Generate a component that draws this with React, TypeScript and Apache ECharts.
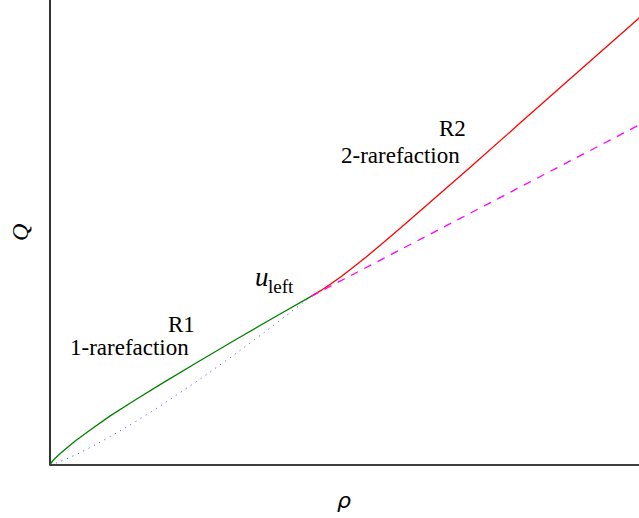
import React, { useEffect, useRef } from "react";
import * as echarts from "echarts";

// rho, Q pairs (origin = axes corner, u_left = (1, 1))
const greenRho = [0, 0.01145, 0.0305, 0.0573, 0.0954, 0.1527, 0.229, 0.3244, 0.4389, 0.5725, 0.7252, 0.8779, 1];
const greenQ = [0, 0.0238, 0.0536, 0.0893, 0.1387, 0.2042, 0.2876, 0.382, 0.4914, 0.6157, 0.7548, 0.8917, 1];

const blueRho = [0, 0.0267, 0.0687, 0.1107, 0.187, 0.2672, 0.3435, 0.4198, 0.5725, 0.6947, 0.8206, 0.9466, 1];
const blueQ = [0, 0.01, 0.0376, 0.0665, 0.1282, 0.1985, 0.2701, 0.3454, 0.5051, 0.6405, 0.7851, 0.9357, 1];

const redRho = [1, 1.0382, 1.0763, 1.1145, 1.1527, 1.2099, 1.2672, 1.3435, 1.458, 1.6107, 1.8015, 2.0305, 2.2595];
const redQ = [1, 1.0351, 1.0744, 1.1167, 1.1619, 1.2327, 1.3065, 1.4071, 1.5619, 1.7696, 2.0315, 2.3452, 2.6595];

const magentaRho = [1, 2.26];
const magentaQ = [1, 2.022];

const xMax = 2.256;
const yMax = 2.762;

const pairs = (a: number[], b: number[]) => a.map((v, i) => [v, b[i]]);

export default function App() {
  const ref = useRef<HTMLDivElement>(null);
  useEffect(() => {
    if (!ref.current) return;
    const chart = echarts.init(ref.current, undefined, { renderer: "svg" });
    const ttl = (text: string, left: number, top: number, size: number, extra: any = {}) => {
      const textStyle: any = {
        fontFamily: extra.family || "Liberation Serif",
        fontSize: size,
        fontWeight: "normal",
        color: "#000",
      };
      if (extra.italic) textStyle.fontStyle = "italic";
      return { text, left, top, padding: 0, itemGap: 0, textStyle };
    };
    chart.setOption({
      animation: false,
      backgroundColor: "#ffffff",
      textStyle: { fontFamily: "Liberation Serif" },
      title: [
        ttl("R1", 168, 313, 23),
        ttl("1-rarefaction", 70, 335.5, 23),
        ttl("R2", 439, 117.2, 23),
        ttl("2-rarefaction", 341, 143.8, 23),
        ttl("u", 255, 263.5, 27, { italic: true }),
        ttl("left", 268, 277, 19),
        ttl("ρ", 337, 489, 22, { italic: true, family: "DejaVu Sans" }),
      ],
      grid: { left: 48.5, right: 0, top: 0, bottom: 53.5 },
      xAxis: {
        type: "value",
        min: 0,
        max: xMax,
        axisLine: { show: true, onZero: false, lineStyle: { color: "#000", width: 1.6 } },
        axisTick: { show: false },
        axisLabel: { show: false },
        splitLine: { show: false },
      },
      yAxis: {
        type: "value",
        min: 0,
        max: yMax,
        name: "Q",
        nameLocation: "middle",
        nameRotate: 90,
        nameGap: 18,
        nameTextStyle: {
          fontFamily: "Liberation Serif",
          fontStyle: "italic",
          fontSize: 24,
          color: "#000",
        },
        axisLine: { show: true, onZero: false, lineStyle: { color: "#000", width: 1.6 } },
        axisTick: { show: false },
        axisLabel: { show: false },
        splitLine: { show: false },
      },
      series: [
        {
          type: "line",
          data: pairs(blueRho, blueQ),
          showSymbol: false,
          smooth: false,
          lineStyle: { color: "#0000ff", width: 1, type: [1, 5], opacity: 0.75 },
        },
        {
          type: "line",
          data: pairs(greenRho, greenQ),
          showSymbol: false,
          smooth: false,
          lineStyle: { color: "#008000", width: 1.3 },
        },
        {
          type: "line",
          data: pairs(redRho, redQ),
          showSymbol: false,
          smooth: false,
          lineStyle: { color: "#ff0000", width: 1.3 },
        },
        {
          type: "line",
          data: pairs(magentaRho, magentaQ),
          showSymbol: false,
          lineStyle: { color: "#ff00ff", width: 1.3, type: [8, 7] },
        },
      ],
    });
    return () => chart.dispose();
  }, []);
  return (
    <div
      ref={ref}
      style={{ position: "fixed", left: 0, top: 0, width: 639, height: 518, background: "#fff" }}
    />
  );
}
